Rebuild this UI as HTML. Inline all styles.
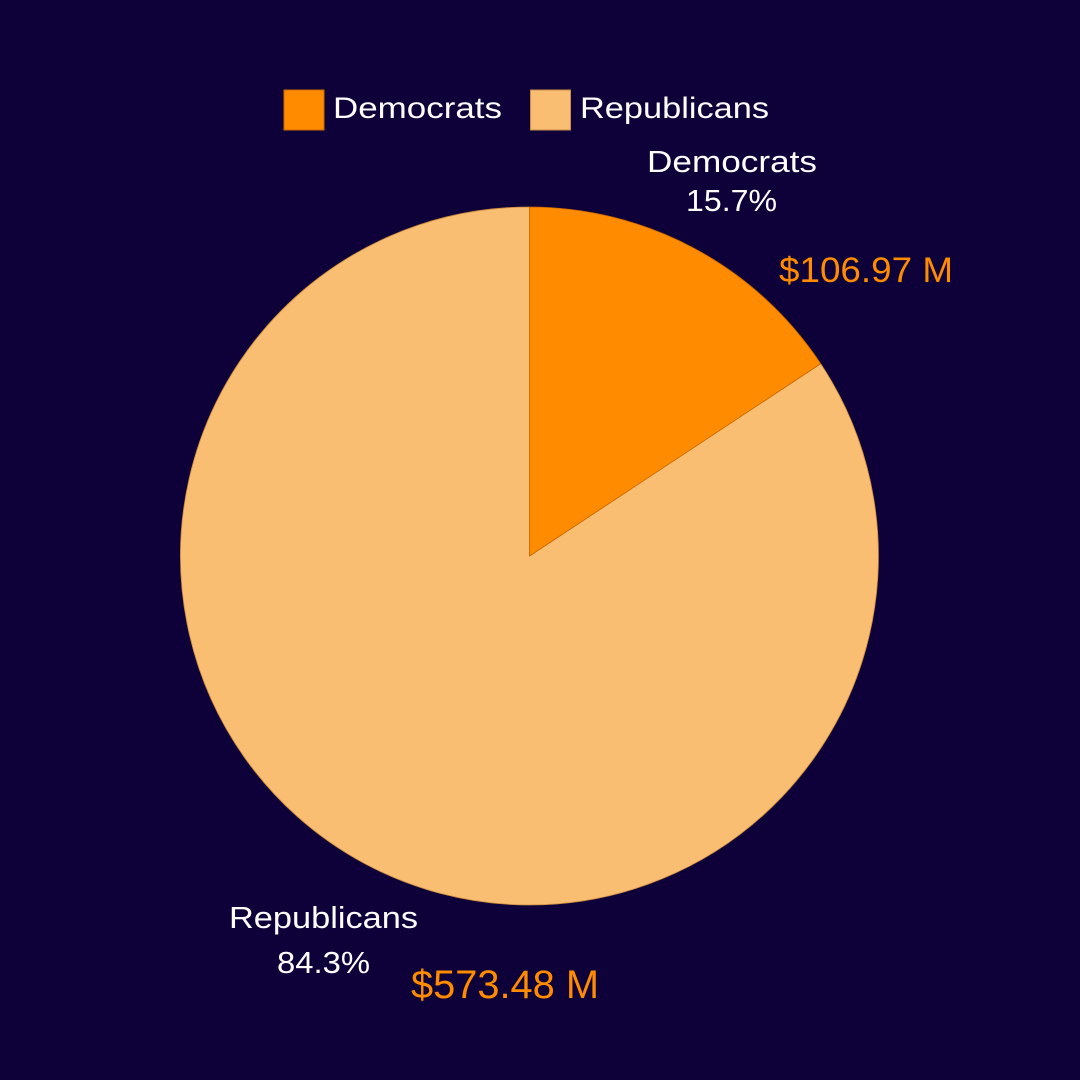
<!DOCTYPE html>
<html>
<head>
<meta charset="utf-8">
<style>
  html,body{margin:0;padding:0;background:#0e0038;}
  svg{display:block;}
  text{font-family:"Liberation Sans",Arial,sans-serif;}
</style>
</head>
<body>
<svg width="1080" height="1080" viewBox="0 0 1080 1080" xmlns="http://www.w3.org/2000/svg">
  <rect x="0" y="0" width="1080" height="1080" fill="#0e0038"/>

  <!-- Legend -->
  <rect x="284" y="90" width="40" height="40" fill="#ff8c00" stroke="#c96a00" stroke-width="1"/>
  <text x="333" y="118" font-size="30" fill="#ffffff" textLength="169" lengthAdjust="spacingAndGlyphs">Democrats</text>
  <rect x="530.5" y="90" width="40" height="40" fill="#f9be71" stroke="#c98f4a" stroke-width="1"/>
  <text x="580" y="118" font-size="30" fill="#ffffff" textLength="189" lengthAdjust="spacingAndGlyphs">Republicans</text>

  <!-- Pie -->
  <path d="M529.5,556 L820.7,363.7 A349,349 0 1,1 529.5,207 Z" fill="#f9be71" stroke="#c98a3e" stroke-width="0.8"/>
  <path d="M529.5,556 L529.5,207 A349,349 0 0,1 820.7,363.7 Z" fill="#ff8c00" stroke="#c46500" stroke-width="0.8"/>

  <!-- Democrat labels -->
  <text x="647" y="172" font-size="31" fill="#ffffff" textLength="170" lengthAdjust="spacingAndGlyphs">Democrats</text>
  <text x="686" y="211" font-size="31" fill="#ffffff" textLength="91" lengthAdjust="spacingAndGlyphs">15.7%</text>
  <text x="779" y="282" font-size="35" fill="#ff8c00" textLength="174" lengthAdjust="spacingAndGlyphs">$106.97 M</text>

  <!-- Republican labels -->
  <text x="229" y="928" font-size="31" fill="#ffffff" textLength="189" lengthAdjust="spacingAndGlyphs">Republicans</text>
  <text x="277" y="973" font-size="31" fill="#ffffff" textLength="93" lengthAdjust="spacingAndGlyphs">84.3%</text>
  <text x="411" y="998" font-size="40" fill="#ff8c00" textLength="188" lengthAdjust="spacingAndGlyphs">$573.48 M</text>
</svg>
</body>
</html>
